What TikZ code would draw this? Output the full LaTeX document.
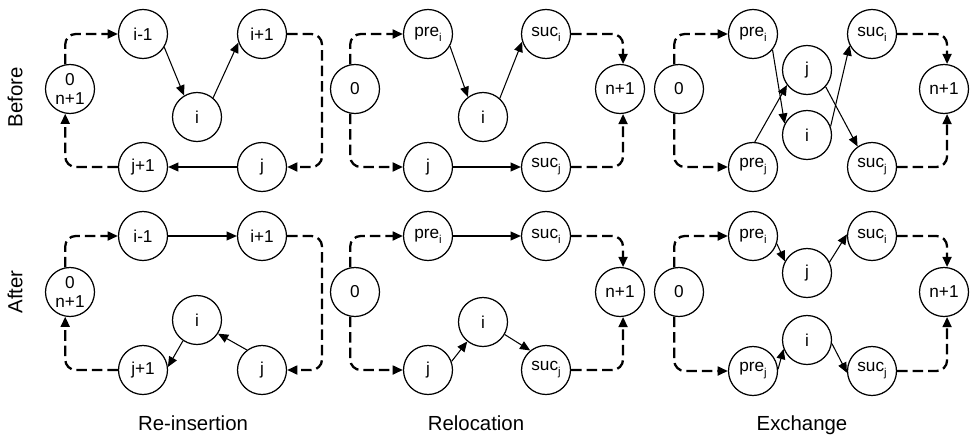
\documentclass[tikz,border=0pt]{standalone}
\usepackage{fontspec}
\setmainfont{Liberation Sans}
\usetikzlibrary{arrows.meta}
\newcommand{\lowsub}[1]{\raisebox{-0.55ex}{\fontsize{6.5}{7}\selectfont #1}}
\tikzset{
  st/.style={draw, circle, line width=0.7pt, minimum size=0.98cm, inner sep=0pt, align=center, font=\fontsize{9.8}{10.8}\selectfont},
  arrow/.style={-{Triangle[length=5.8pt,width=5pt]}, line width=0.6pt},
  dasharrow/.style={-{Triangle[length=5.8pt,width=5pt]}, line width=1.3pt, dash pattern=on 6pt off 2.8pt, rounded corners=6pt},
  lbl/.style={font=\fontsize{11.6}{13}\selectfont}
}

\begin{document}
\begin{tikzpicture}[x=0.02cm, y=-0.02cm]
  \useasboundingbox (0,0) rectangle (972,439);
  % row labels
  \node[lbl, rotate=90] (before) at (15,97) {Before};
  \node[lbl, rotate=90] (after) at (15,292) {After};
  \node[lbl, anchor=base] (reins) at (193,430) {Re-insertion};
  \node[lbl, anchor=base] (reloc) at (476,430) {Relocation};
  \node[lbl, anchor=base] (exch) at (802,430) {Exchange};

  % Re-insertion, before
  \node[st] (rb0) at (70,89) {0\\n+1};
  \node[st] (rbim) at (143,34) {i-1};
  \node[st] (rbip) at (262,34) {i+1};
  \node[st] (rbi) at (197,117) {i};
  \node[st] (rbjp) at (143,167) {j+1};
  \node[st] (rbj) at (262,167) {j};
  \coordinate (rbc) at (322,34);
  \draw[dasharrow] (rb0.101) |- (rbim.west);
  \draw[dasharrow] (rbip.east) -- (rbc) |- (rbj.east);
  \draw[dasharrow] (rbjp.west) -| (rb0.-101);
  \draw[arrow] (rbim.-32) -- (rbi.121);
  \draw[arrow] (rbi.50) -- (rbip.200);
  \draw[arrow] (rbj) -- (rbjp);

  % Re-insertion, after
  \node[st] (ra0) at (70,292) {0\\n+1};
  \node[st] (raim) at (143,236) {i-1};
  \node[st] (raip) at (262,236) {i+1};
  \node[st] (rai) at (197,320) {i};
  \node[st] (rajp) at (143,370) {j+1};
  \node[st] (raj) at (262,370) {j};
  \coordinate (rac) at (322,236);
  \draw[dasharrow] (ra0.101) |- (raim.west);
  \draw[dasharrow] (raip.east) -- (rac) |- (raj.east);
  \draw[dasharrow] (rajp.west) -| (ra0.-101);
  \draw[arrow] (raim) -- (raip);
  \draw[arrow] (rai.236) -- (rajp.7);
  \draw[arrow] (raj.127) -- (rai.-33);

  % Relocation, before
  \node[st] (lb0) at (355,89) {0};
  \node[st] (lbpi) at (428,34) {pre\lowsub{i}};
  \node[st] (lbsi) at (546,34) {suc\lowsub{i}};
  \node[st] (lbi) at (483,117) {i};
  \node[st] (lbn) at (620,89) {n+1};
  \node[st] (lbj) at (428,167) {j};
  \node[st] (lbsj) at (546,167) {suc\lowsub{j}};
  \draw[dasharrow] (lb0.101) |- (lbpi.west);
  \draw[dasharrow] (lb0.-101) |- (lbj.west);
  \draw[dasharrow] (lbsi.east) -| (lbn.83);
  \draw[dasharrow] (lbsj.east) -| (lbn.-83);
  \draw[arrow] (lbpi.-29) -- (lbi.127);
  \draw[arrow] (lbi.48) -- (lbsi.198);
  \draw[arrow] (lbj) -- (lbsj);

  % Relocation, after
  \node[st] (la0) at (355,292) {0};
  \node[st] (lapi) at (428,236) {pre\lowsub{i}};
  \node[st] (lasi) at (546,236) {suc\lowsub{i}};
  \node[st] (lai) at (483,322) {i};
  \node[st] (lan) at (620,292) {n+1};
  \node[st] (laj) at (428,370) {j};
  \node[st] (lasj) at (546,370) {suc\lowsub{j}};
  \draw[dasharrow] (la0.101) |- (lapi.west);
  \draw[dasharrow] (la0.-101) |- (laj.west);
  \draw[dasharrow] (lasi.east) -| (lan.83);
  \draw[dasharrow] (lasj.east) -| (lan.-83);
  \draw[arrow] (lapi) -- (lasi);
  \draw[arrow] (laj.20) -- (lai.231);
  \draw[arrow] (lai.-30) -- (lasj.129);

  % Exchange, before
  \node[st] (xb0) at (679,89) {0};
  \node[st] (xbpi) at (753,34) {pre\lowsub{i}};
  \node[st] (xbsi) at (872,34) {suc\lowsub{i}};
  \node[st] (xbj) at (807,70) {j};
  \node[st] (xbi) at (807,135) {i};
  \node[st] (xbn) at (944,89) {n+1};
  \node[st] (xbpj) at (753,167) {pre\lowsub{j}};
  \node[st] (xbsj) at (872,167) {suc\lowsub{j}};
  \draw[dasharrow] (xb0.101) |- (xbpi.west);
  \draw[dasharrow] (xb0.-101) |- (xbpj.west);
  \draw[dasharrow] (xbsi.east) -| (xbn.83);
  \draw[dasharrow] (xbsj.east) -| (xbn.-83);
  \draw[arrow] (xbpi.-39) -- (xbi.153);
  \draw[arrow] (xbpj.86) -- (xbj.217);
  \draw[arrow] (xbi.20) -- (xbsi.207);
  \draw[arrow] (xbj.-42) -- (xbsj.125);

  % Exchange, after
  \node[st] (xa0) at (679,292) {0};
  \node[st] (xapi) at (753,236) {pre\lowsub{i}};
  \node[st] (xasi) at (872,236) {suc\lowsub{i}};
  \node[st] (xaj) at (807,273) {j};
  \node[st] (xai) at (807,340) {i};
  \node[st] (xan) at (944,292) {n+1};
  \node[st] (xapj) at (753,371) {pre\lowsub{j}};
  \node[st] (xasj) at (872,371) {suc\lowsub{j}};
  \draw[dasharrow] (xa0.101) |- (xapi.west);
  \draw[dasharrow] (xa0.-101) |- (xapj.west);
  \draw[dasharrow] (xasi.east) -| (xan.83);
  \draw[dasharrow] (xasj.east) -| (xan.-83);
  \draw[arrow] (xapi.-18) -- (xaj.152);
  \draw[arrow] (xaj.26) -- (xasi.176);
  \draw[arrow] (xapj.4) -- (xai.201);
  \draw[arrow] (xai.-8) -- (xasj.184);
\end{tikzpicture}
\end{document}
